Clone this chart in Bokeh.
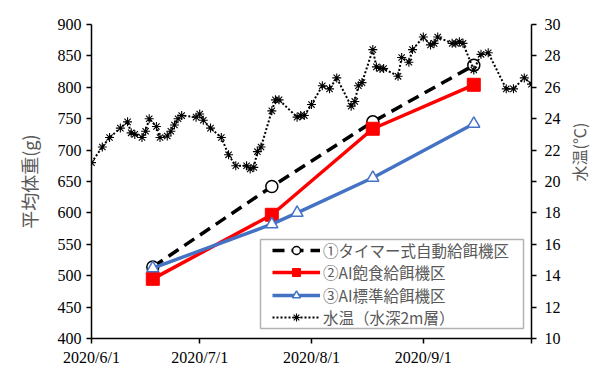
import math
import pandas as pd
from bokeh.plotting import figure
from bokeh.models import (Range1d, LinearAxis, FixedTicker, Legend, LegendItem,
                          BoxAnnotation)
from bokeh.embed import file_html
from bokeh.resources import INLINE

start_date = "2020-06-01"

timer_dates = ["2020-06-18", "2020-07-21", "2020-08-18", "2020-09-15"]
timer_weight = [514, 642, 745, 835]

satiation_dates = ["2020-06-18", "2020-07-21", "2020-08-18", "2020-09-15"]
satiation_weight = [495, 597, 734, 804]

standard_dates = ["2020-06-18", "2020-07-21", "2020-07-28", "2020-08-18", "2020-09-15"]
standard_weight = [512, 582, 600, 656, 742]

temp_dates = [
    "2020-06-01", "2020-06-04", "2020-06-06", "2020-06-09", "2020-06-11", "2020-06-12",
    "2020-06-13", "2020-06-15", "2020-06-16", "2020-06-17", "2020-06-19", "2020-06-20",
    "2020-06-22", "2020-06-23", "2020-06-24", "2020-06-25", "2020-06-26", "2020-06-30",
    "2020-07-01", "2020-07-02", "2020-07-04", "2020-07-07", "2020-07-09", "2020-07-11",
    "2020-07-14", "2020-07-15", "2020-07-16", "2020-07-17", "2020-07-18", "2020-07-21",
    "2020-07-22", "2020-07-23", "2020-07-28", "2020-07-29", "2020-07-30", "2020-08-01",
    "2020-08-04", "2020-08-06", "2020-08-08", "2020-08-12", "2020-08-13", "2020-08-14",
    "2020-08-15", "2020-08-18", "2020-08-19", "2020-08-20", "2020-08-21", "2020-08-25",
    "2020-08-26", "2020-08-28", "2020-08-29", "2020-09-01", "2020-09-03", "2020-09-04",
    "2020-09-05", "2020-09-09", "2020-09-10", "2020-09-11", "2020-09-12", "2020-09-15",
    "2020-09-17", "2020-09-19", "2020-09-24", "2020-09-26", "2020-09-29", "2020-10-01",
]
temp_values = [
    21.2, 22.2, 22.8, 23.4, 23.8, 23.1,
    23.0, 22.8, 23.2, 24.0, 23.5, 22.8,
    22.9, 23.2, 23.6, 24.0, 24.2, 24.1,
    24.3, 23.9, 23.4, 22.8, 21.7, 21.0,
    21.0, 20.8, 20.9, 21.9, 22.2, 24.5,
    25.2, 25.2, 24.1, 24.2, 24.2, 24.9,
    26.1, 25.9, 26.6, 24.8, 25.1, 26.1,
    26.3, 28.4, 27.3, 27.2, 27.2, 26.7,
    27.9, 27.6, 28.4, 29.2, 28.7, 28.8,
    29.2, 28.8, 28.8, 28.9, 28.8, 27.1,
    28.1, 28.2, 25.9, 25.9, 26.6, 26.2,
]

tick_dates = ["2020-06-01", "2020-07-01", "2020-08-01", "2020-09-01", "2020-10-01"]
tick_labels = ["2020/6/1", "2020/7/1", "2020/8/1", "2020/9/1", ""]

legend_labels = ["①タイマー式自動給餌機区", "②AI飽食給餌機区", "③AI標準給餌機区", "水温（水深2m層）"]
left_title = "平均体重(g)"
right_title = "水温(℃)"


def to_days(dates):
    t0 = pd.Timestamp(start_date)
    return [int((pd.Timestamp(d) - t0).days) for d in dates]


tick_days = to_days(tick_dates)

p = figure(width=605, height=368, output_backend="svg", toolbar_location=None,
           x_range=Range1d(tick_days[0], tick_days[-1]), y_range=Range1d(400, 900),
           min_border_left=91, min_border_right=72, min_border_top=24, min_border_bottom=28)
p.outline_line_color = None
p.xgrid.visible = False
p.ygrid.visible = False
p.background_fill_color = "white"
p.border_fill_color = "white"

p.extra_y_ranges = {"temp": Range1d(10, 30)}

SERIF = "Liberation Serif"
JP = "Noto Sans CJK JP"

# x axis
xa = p.xaxis[0]
xa.ticker = FixedTicker(ticks=tick_days)
xa.major_label_overrides = {d: l for d, l in zip(tick_days, tick_labels)}
xa.minor_tick_line_color = None

# left axis
ya = p.yaxis[0]
ya.ticker = FixedTicker(ticks=list(range(400, 901, 50)))
ya.minor_tick_line_color = None
ya.axis_label = left_title

# right axis
ra = LinearAxis(y_range_name="temp", axis_label=right_title)
ra.ticker = FixedTicker(ticks=list(range(10, 31, 2)))
ra.minor_tick_line_color = None
try:
    ra.axis_label_orientation = math.pi / 2
except Exception:
    pass
p.add_layout(ra, "right")

for ax in [xa, ya, ra]:
    ax.axis_line_color = "black"
    ax.axis_line_width = 1.5
    ax.major_tick_line_color = "black"
    ax.major_tick_line_width = 1.5
    ax.major_tick_out = 5
    ax.major_tick_in = 0
    ax.major_label_text_font = SERIF
    ax.major_label_text_font_size = "16px"
    ax.major_label_text_color = "black"
    ax.axis_label_text_font = JP
    ax.axis_label_text_color = "#595959"
    ax.axis_label_text_font_style = "normal"

ya.axis_label_text_font_size = "18px"
ra.axis_label_text_font_size = "16px"
xa.major_label_standoff = 5
ya.major_label_standoff = 5
ra.major_label_standoff = 8
ya.axis_label_standoff = 13
ra.axis_label_standoff = 15

# series 1: timer feeder
tx = to_days(timer_dates)
l1 = p.line(tx, timer_weight, line_color="black", line_width=3.5, line_dash="12 7")
m1 = p.scatter(tx, timer_weight, marker="circle", size=12, line_color="black",
               line_width=1.5, fill_color="white")

# series 2: AI satiation
sx = to_days(satiation_dates)
l2 = p.line(sx, satiation_weight, line_color="#FF0000", line_width=3.5)
m2 = p.scatter(sx, satiation_weight, marker="square", size=13, line_color="#FF0000",
               fill_color="#FF0000")

# series 3: AI standard
bx = to_days(standard_dates)
l3 = p.line(bx, standard_weight, line_color="#4472C4", line_width=3.5)
m3 = p.scatter(bx, standard_weight, marker="triangle", size=12, line_color="#4472C4",
               line_width=1.5, fill_color="white")

# water temperature
wx = to_days(temp_dates)
l4 = p.line(wx, temp_values, y_range_name="temp", line_color="black", line_width=2,
            line_dash="2 2")
m4 = p.scatter(wx, temp_values, y_range_name="temp", marker="asterisk", size=9,
               line_color="black", line_width=1.1)

# legend frame
p.add_layout(BoxAnnotation(left=169, right=432, bottom=10, top=99,
                           left_units="screen", right_units="screen",
                           bottom_units="screen", top_units="screen",
                           fill_color="white", fill_alpha=1,
                           line_color="black", line_width=1.5))

# one legend per row, so the row pitch matches the reference
row_bottoms = [73, 51, 28, 6]
row_renderers = [[l1, m1], [l2, m2], [l3, m3], [l4, m4]]
for lab, rends, yb in zip(legend_labels, row_renderers, row_bottoms):
    lg = Legend(items=[LegendItem(label=lab, renderers=rends)], location=(181, yb))
    lg.label_text_font = JP
    lg.label_text_font_size = "15.5px"
    lg.label_text_color = "#595959"
    lg.glyph_width = 48
    lg.glyph_height = 20
    lg.label_height = 30
    lg.label_standoff = 3
    lg.spacing = 0
    lg.padding = 0
    lg.margin = 0
    lg.border_line_color = None
    lg.background_fill_alpha = 0
    p.add_layout(lg)

open("out.html", "w").write(file_html(p, INLINE))
